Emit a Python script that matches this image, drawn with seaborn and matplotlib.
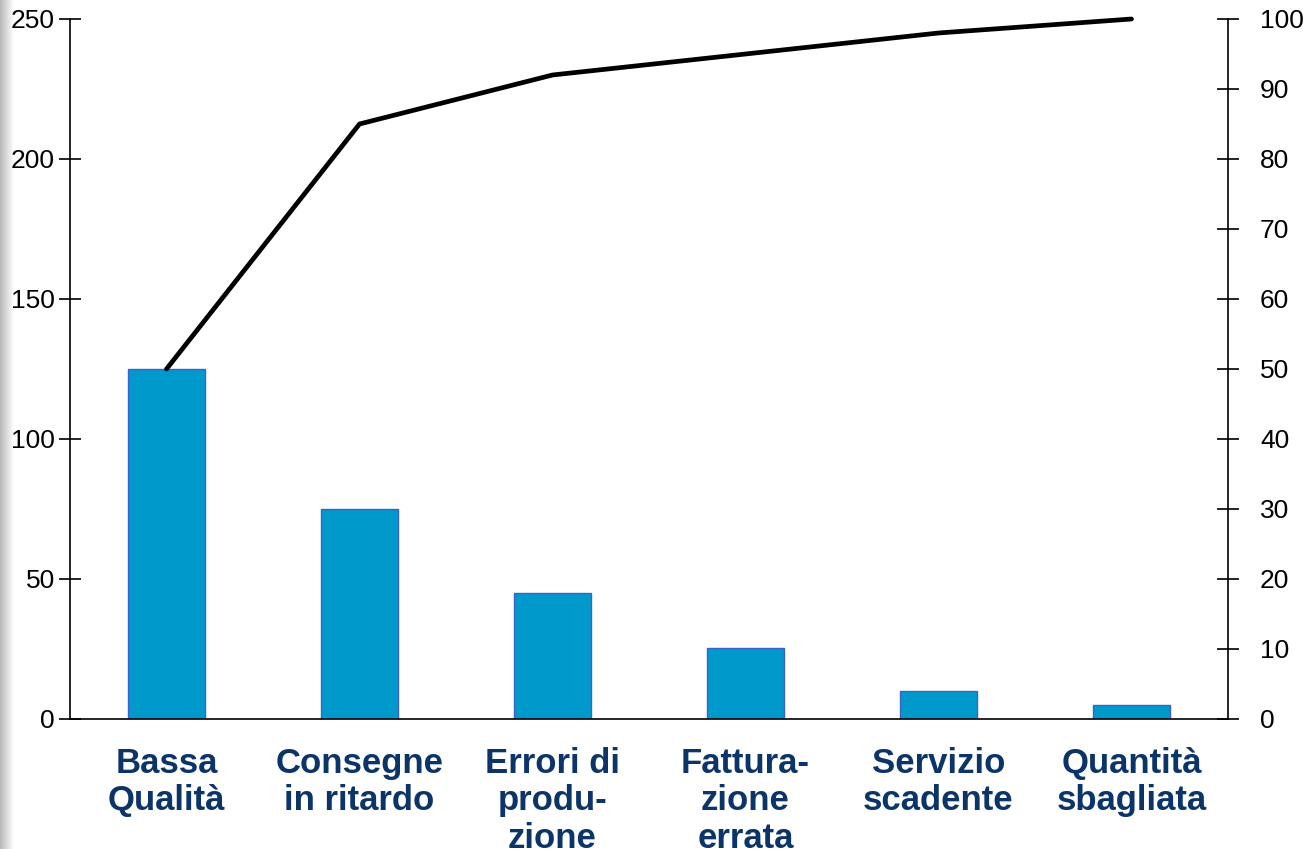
import numpy as np
import pandas as pd
import matplotlib
matplotlib.use("Agg")
import matplotlib.pyplot as plt
import seaborn as sns

# Pareto data: defect causes, counts and cumulative percentage
categories = ["Bassa\nQualità", "Consegne\nin ritardo", "Errori di\nprodu-\nzione",
              "Fattura-\nzione\nerrata", "Servizio\nscadente", "Quantità\nsbagliata"]
counts = [125, 75, 45, 25.5, 10, 5]
cumulative_pct = [50, 85, 92, 95, 98, 100]
left_ticks = [0, 50, 100, 150, 200, 250]
right_ticks = [0, 10, 20, 30, 40, 50, 60, 70, 80, 90, 100]

sns.set_theme(style="white")
plt.rcParams["font.family"] = ["Liberation Sans", "DejaVu Sans"]

W, H = 1303, 849
fig = plt.figure(figsize=(W / 100, H / 100), dpi=100)
fig.patch.set_facecolor("white")

# soft grey shading along the left edge
edge = fig.add_axes([0, 0, 14 / W, 1])
grad = np.linspace(0.72, 1.0, 64).reshape(1, -1)
edge.imshow(grad, aspect="auto", cmap="gray", vmin=0, vmax=1, extent=[0, 1, 0, 1])
edge.set_axis_off()

ax = fig.add_axes([70 / W, (H - 719) / H, (1228 - 70) / W, (719 - 19) / H])
df = pd.DataFrame({"causa": categories, "conteggio": counts})
sns.barplot(data=df, x="causa", y="conteggio", ax=ax, color="#0099CC",
            saturation=1, width=0.4, edgecolor="#3A62C8", linewidth=1.0)

ax.set_xlim(-0.5, 5.5)
ax.set_ylim(0, 250)
ax.set_yticks(left_ticks)
ax.set_xlabel("")
ax.set_ylabel("")
for s in ["top", "right"]:
    ax.spines[s].set_visible(False)
for s in ["left", "bottom"]:
    ax.spines[s].set_color("black")
    ax.spines[s].set_linewidth(1.2)
ax.tick_params(axis="y", direction="inout", length=16, width=1.2, pad=3,
               labelsize=19, colors="black")
ax.tick_params(axis="x", length=0, pad=20)
ax.set_xticks(range(len(categories)))
ax.set_xticklabels(categories, fontsize=25, fontweight="bold", color="#0B3468",
                   linespacing=1.18, va="top")

ax2 = ax.twinx()
sns.lineplot(x=np.arange(len(categories)), y=cumulative_pct, ax=ax2,
             color="black", linewidth=3.4)
for ln in ax2.get_lines():
    ln.set_clip_on(False)
ax2.set_ylim(0, 100)
ax2.set_yticks(right_ticks)
ax2.set_ylabel("")
for s in ["top", "left", "bottom"]:
    ax2.spines[s].set_visible(False)
ax2.spines["right"].set_color("black")
ax2.spines["right"].set_linewidth(1.2)
ax2.tick_params(axis="y", direction="inout", length=16, width=1.2, pad=15,
                labelsize=19, colors="black")
ax2.set_xlim(-0.5, 5.5)

fig.savefig("out.png", dpi=100)
